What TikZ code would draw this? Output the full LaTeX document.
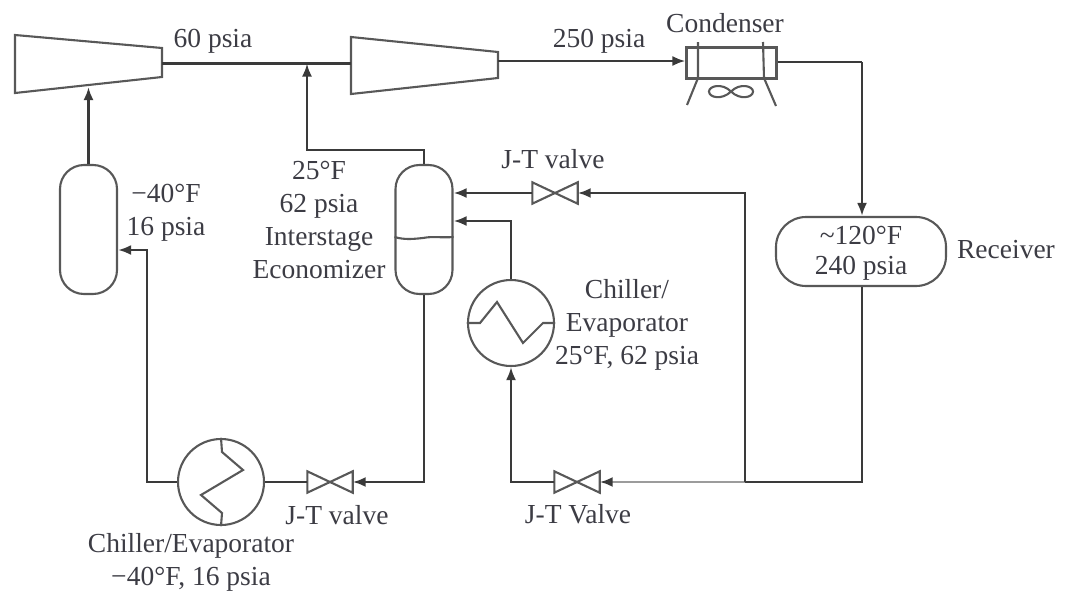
\documentclass[tikz,border=0pt]{standalone}
\usepackage{fontspec}
\setmainfont{Liberation Serif}
\usetikzlibrary{arrows.meta,positioning}
\definecolor{ln}{HTML}{3A3A3A}
\definecolor{tx}{HTML}{3C3C44}
\tikzset{
  x=1pt,y=-1pt,
  flow/.style={-{Latex[length=13pt,width=10pt]},line width=2.5pt,draw=ln},
  paleflow/.style={-{Latex[length=13pt,width=10pt,color=ln]},line width=2.5pt,draw=ln!50},
  plain/.style={line width=2.5pt,draw=ln},
  thinl/.style={line width=2.1pt,draw=ln!85},
  lbl/.style={text=tx,font=\fontsize{27.5}{33}\selectfont,align=center,inner sep=0pt,draw=none},
  vessel/.style={draw=ln!85,line width=2.1pt,rounded corners=24pt,minimum width=57pt,minimum height=129pt,inner sep=0pt},
  rcv/.style={draw=ln!85,line width=2.1pt,rounded corners=30pt,minimum width=170pt,minimum height=69pt,inner sep=0pt},
  hx/.style={circle,draw=ln!85,line width=2.1pt,minimum size=86pt,inner sep=0pt},
  valvebox/.style={draw=none,minimum width=45pt,minimum height=21pt,inner sep=0pt},
  hollow/.style={draw=none,inner sep=0pt},
}
\newcommand{\valvetie}[1]{\draw[thinl] (#1.south west) -- (#1.north west) -- (#1.south east) -- (#1.north east) -- cycle;}
\begin{document}
\begin{tikzpicture}
\useasboundingbox[draw=none] (0,0) rectangle (1065,597);
% compressors
\node[hollow,minimum width=147pt,minimum height=58pt] (c1) at (88.5,63.5) {};
\node[hollow,minimum width=147pt,minimum height=57pt] (c2) at (424.5,63.5) {};
\draw[thinl] (15,35) -- (162,48) -- (162,77) -- (15,93) -- cycle;
\draw[thinl] (351,37) -- (498,52) -- (498,78) -- (351,94) -- cycle;
% vessels
\node[vessel] (v1) at (88.5,229.5) {};
\node[vessel] (v2) at (424,229.5) {};
\node[rcv] (r) at (861,251.5) {};
% condenser
\node[draw=ln!85,line width=2.1pt,minimum width=90pt,minimum height=31pt,inner sep=0pt] (cd) at (731.5,63) {};
\draw[thinl] (698,42) -- (698,78) -- (687,105);
\draw[thinl] (763,42) -- (764,78) -- (776,106);
\draw[thinl] (731,91.5) .. controls (722,82.5) and (709,86) .. (709,91.5) .. controls (709,97.5) and (722,100.5) .. (731,91.5) .. controls (740,82.5) and (753,86) .. (753,91.5) .. controls (753,97.5) and (740,100.5) .. (731,91.5);
% heat exchangers
\node[hx] (h1) at (221,482) {};
\node[hx] (h2) at (511,323) {};
\draw[thinl] (h1.north) -- (222,452) -- (243,470) -- (201,495) -- (222,513) -- (h1.south);
\draw[thinl] (h2.west) -- (480,323) -- (497,302) -- (523,343) -- (543,323) -- (h2.east);
% liquid level
\draw[thinl] (v2.west |- 0,237) .. controls (405,240) and (413,239) .. (423,238) .. controls (433,236) and (441,238) .. (v2.east |- 0,237);
% valves
\node[valvebox] (jt1) at (330,482) {};
\node[valvebox] (jt2) at (577,482) {};
\node[valvebox] (jt3) at (555,193) {};
\valvetie{jt1}\valvetie{jt2}\valvetie{jt3}
% junctions
\coordinate (j1) at (307,63.5);
\coordinate (j2) at (745,482);
\coordinate (e1) at (862,62);
\coordinate (c1in) at (88.5,87);
% connectors
\draw[plain] (c1.east) -- (c2.west);
\draw[flow] (v2.north) |- (307,150) -- (j1);
\draw[flow] (c2.east |- 0,61) -- (cd.west |- 0,61);
\draw[plain] (cd.east |- e1) -- (e1);
\draw[flow] (e1) -- (r.north -| e1);
\draw[plain] (r.south -| e1) |- (j2);
\draw[paleflow] (j2) -- (jt2.east);
\draw[flow] (j2) |- (jt3.east);
\draw[flow] (jt3.west) -- (v2.east |- jt3);
\draw[flow] (jt2.west) -| (h2.south);
\draw[flow] (h2.north) |- (v2.east |- 0,221);
\draw[flow] (v2.south) |- (jt1.east);
\draw[plain] (jt1.west) -- (h1.east);
\draw[flow] (h1.west) -| (147,250) -- (v1.east |- 0,250);
\draw[flow] (v1.north) -- (c1in);
% labels
\node[lbl] (t1) at (213,41) {60 psia};
\node[lbl] (t2) at (599,41) {250 psia};
\node[lbl] (t3) at (725,23) {Condenser};
\node[lbl] (t4) at (553,159) {J-T valve};
\node[lbl] (t5) at (166,213) {−40°F\\16 psia};
\node[lbl] (t6) at (319,220) {25°F\\62 psia\\Interstage\\Economizer};
\node[lbl,font=\fontsize{27.5}{30}\selectfont] (t7) at (861,253) {\textasciitilde120°F\\240 psia};
\node[lbl] (t8) at (1006,250) {Receiver};
\node[lbl] (t9) at (627,325) {Chiller/\\Evaporator\\25°F, 62 psia};
\node[lbl] (t10) at (337,515) {J-T valve};
\node[lbl] (t11) at (578,514) {J-T Valve};
\node[lbl] (t12) at (191,562) {Chiller/Evaporator\\−40°F, 16 psia};
\end{tikzpicture}
\end{document}
